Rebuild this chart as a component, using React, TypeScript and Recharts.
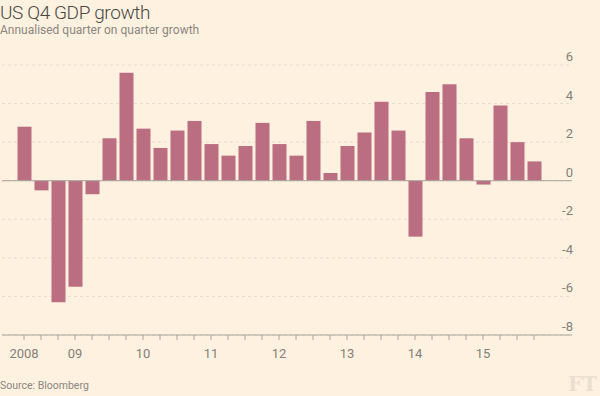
import { BarChart, Bar, XAxis, YAxis, CartesianGrid, ReferenceLine } from 'recharts'

// quarters 2008 Q2 .. 2015 Q4
const quarters = [
  '2008 Q2', '2008 Q3', '2008 Q4',
  '2009 Q1', '2009 Q2', '2009 Q3', '2009 Q4',
  '2010 Q1', '2010 Q2', '2010 Q3', '2010 Q4',
  '2011 Q1', '2011 Q2', '2011 Q3', '2011 Q4',
  '2012 Q1', '2012 Q2', '2012 Q3', '2012 Q4',
  '2013 Q1', '2013 Q2', '2013 Q3', '2013 Q4',
  '2014 Q1', '2014 Q2', '2014 Q3', '2014 Q4',
  '2015 Q1', '2015 Q2', '2015 Q3', '2015 Q4',
]

const growth = [
  2.8, -0.5, -6.3,
  -5.5, -0.7, 2.2, 5.6,
  2.7, 1.7, 2.6, 3.1,
  1.9, 1.3, 1.8, 3.0,
  1.9, 1.3, 3.1, 0.4,
  1.8, 2.5, 4.1, 2.6,
  -2.9, 4.6, 5.0, 2.2,
  -0.2, 3.9, 2.0, 1.0,
]

const xLabels: Record<string, string> = {
  '2008 Q2': '2008',
  '2009 Q1': '09',
  '2010 Q1': '10',
  '2011 Q1': '11',
  '2012 Q1': '12',
  '2013 Q1': '13',
  '2014 Q1': '14',
  '2015 Q1': '15',
}

const yTicks = [-8, -6, -4, -2, 0, 2, 4, 6]

const chartData = quarters.map((q, i) => ({ quarter: q, value: growth[i] }))

const BG = '#fff1e0'
const BAR = '#bb6d82'

const YTick = ({ y, payload }: any) => (
  <text x={573} y={y - 4} textAnchor="end" fontSize={13} fill="#83807a" fontFamily="Roboto, sans-serif">
    {payload.value}
  </text>
)

const XTick = ({ x, y, payload }: any) => (
  <text x={x} y={y + 16} textAnchor="middle" fontSize={13} fill="#83807a" fontFamily="Roboto, sans-serif">
    {xLabels[payload.value] ?? ''}
  </text>
)

export default function App() {
  return (
    <div style={{ position: 'absolute', left: 0, top: 0, width: 600, height: 396, background: BG, overflow: 'hidden', fontFamily: 'Roboto, sans-serif' }}>
      <div style={{ position: 'absolute', left: 0, top: 1, fontSize: 19, color: '#4a4844', fontWeight: 300, letterSpacing: -0.4 }}>
        US Q4 GDP growth
      </div>
      <div style={{ position: 'absolute', left: 0, top: 23, fontSize: 12, color: '#8a8680' }}>
        Annualised quarter on quarter growth
      </div>
      <BarChart
        width={600}
        height={396}
        data={chartData}
        margin={{ top: 65, right: 0, bottom: 31, left: 2 }}
        barSize={14}
      >
        <CartesianGrid vertical={false} stroke="#e6dbcc" strokeDasharray="3 3" />
        <XAxis
          dataKey="quarter"
          interval={0}
          height={30}
          padding={{ left: 13.5, right: 29.5 }}
          axisLine={{ stroke: '#a8a39b' }}
          tickLine={{ stroke: '#a8a39b' }}
          tickSize={5}
          tick={<XTick />}
        />
        <YAxis
          orientation="right"
          width={28}
          domain={[-8, 6]}
          ticks={yTicks}
          axisLine={false}
          tickLine={false}
          tick={<YTick />}
        />
        <ReferenceLine y={0} stroke="#a8a39b" />
        <Bar dataKey="value" fill={BAR} isAnimationActive={false} />
      </BarChart>
      <div style={{ position: 'absolute', left: 0, top: 379, fontSize: 10.5, color: '#8a8680' }}>
        Source: Bloomberg
      </div>
      <div style={{ position: 'absolute', left: 568, top: 372, fontSize: 20, color: '#eadfd0', fontFamily: '"DejaVu Serif", serif', fontWeight: 'bold' }}>
        FT
      </div>
    </div>
  )
}
